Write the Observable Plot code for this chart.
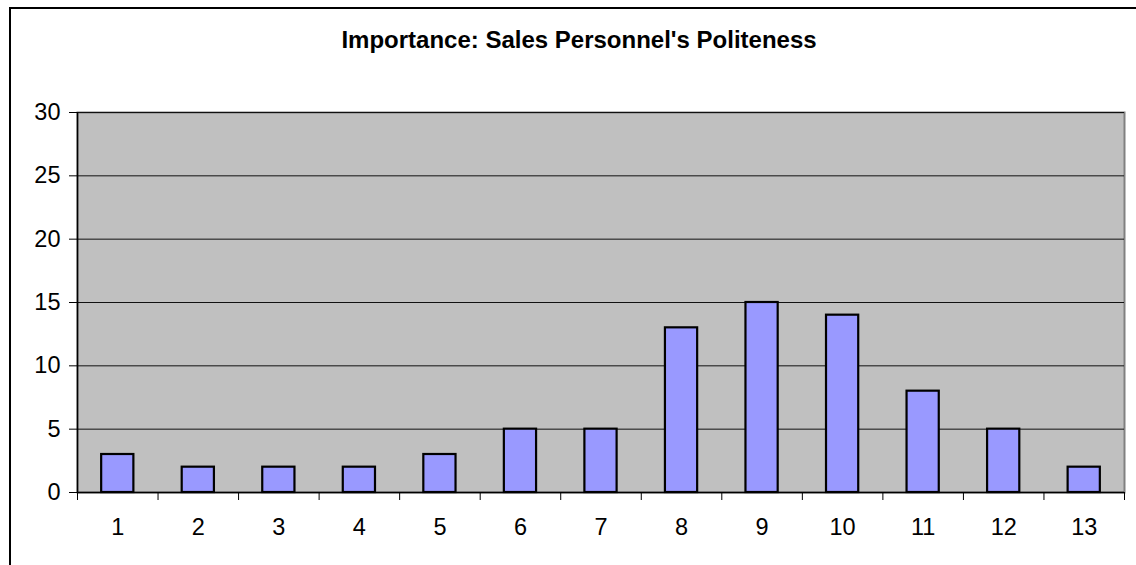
<!DOCTYPE html>
<html><head><meta charset="utf-8">
<script src="https://cdn.jsdelivr.net/npm/d3@7"></script>
<script src="https://cdn.jsdelivr.net/npm/@observablehq/plot@0.6"></script>
<style>
html,body{margin:0;padding:0;background:#fff;}
#wrap{position:relative;width:1136px;height:565px;overflow:hidden;}
#frame{position:absolute;left:9px;top:7px;right:-5px;bottom:-5px;border-left:2px solid #000;border-top:2px solid #000;pointer-events:none;}
#wrap svg{position:absolute;left:0;top:0;}
</style></head>
<body><div id="wrap"><div id="frame"></div></div>
<script>
const categories = [1, 2, 3, 4, 5, 6, 7, 8, 9, 10, 11, 12, 13];
const counts = [3, 2, 2, 2, 3, 5, 5, 13, 15, 14, 8, 5, 2];
const yTicks = [0, 5, 10, 15, 20, 25, 30];
const title = "Importance: Sales Personnel's Politeness";

const data = categories.map((c, i) => ({category: c, count: counts[i]}));
const boundaries = categories.map(c => c - 0.5).concat([categories[categories.length - 1] + 0.5]);
const font = "'Liberation Sans', Arial, Helvetica, sans-serif";

const plot = Plot.plot({
  width: 1136, height: 565,
  marginTop: 112, marginBottom: 73, marginLeft: 77, marginRight: 12,
  style: {fontFamily: font, fontSize: "23px", color: "#000", background: "transparent"},
  x: {domain: [0.5, 13.5]},
  y: {domain: [0, 30]},
  marks: [
    Plot.frame({fill: "#c0c0c0", stroke: "#808080", strokeWidth: 2}),
    Plot.gridY(yTicks, {stroke: "#111", strokeOpacity: 1, strokeWidth: 1}),
    Plot.rectY(data, {x1: d => d.category - 0.2, x2: d => d.category + 0.2, y: "count", fill: "#9999ff", stroke: "#000", strokeWidth: 2.2}),
    Plot.ruleX([0.5], {stroke: "#000", strokeWidth: 1.5}),
    Plot.ruleY([0], {stroke: "#000", strokeWidth: 1.5}),
    Plot.axisY({ticks: yTicks, tickSize: 8, tickPadding: 9, fontSize: 23.5, tickFormat: d => String(d), label: null}),
    Plot.axisX({ticks: boundaries, tickSize: 8, tickFormat: () => "", label: null}),
    Plot.axisX({ticks: categories, tickSize: 0, tickPadding: 26, fontSize: 23.5, tickFormat: d => String(d), label: null}),
    Plot.text([title], {frameAnchor: "top", lineAnchor: "bottom", dy: -65, dx: -22, fontSize: 24, fontWeight: "bold", text: d => d})
  ]
});
document.getElementById("wrap").appendChild(plot);
</script>
</body></html>
